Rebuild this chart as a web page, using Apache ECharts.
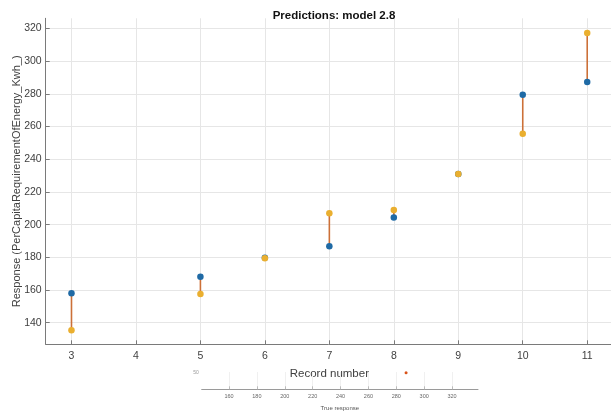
<!DOCTYPE html>
<html>
<head>
<meta charset="utf-8">
<script src="https://cdn.jsdelivr.net/npm/echarts@6/dist/echarts.min.js"></script>
<style>
  html, body { margin: 0; padding: 0; background: #fff; overflow: hidden; }
  #main { position: absolute; left: 0; top: 0; width: 611px; height: 418px; }
  #inset { position: absolute; left: 170px; top: 362px; width: 330px; height: 56px; filter: blur(0.6px); }
</style>
</head>
<body>
<div id="main"></div>
<div id="inset"></div>
<script>
// Record numbers with true and predicted response values
const recordNumbers = [3, 5, 6, 7, 8, 9, 10, 11];
const trueResponse = [158.0, 168.1, 179.8, 186.7, 204.3, 231.0, 279.4, 287.2];
const predictedResponse = [135.4, 157.6, 179.5, 207.0, 208.9, 231.0, 255.6, 317.2];

// Tick labels
const xTicks = [3, 4, 5, 6, 7, 8, 9, 10, 11];
const yTicks = [140, 160, 180, 200, 220, 240, 260, 280, 300, 320];

// Small response-plot strip below the main axes
const insetTicks = [160, 180, 200, 220, 240, 260, 280, 300, 320];
const insetTrueResponse = [287];
const insetPredicted = [50];

const FONT = '"Liberation Sans", Arial, Helvetica, sans-serif';
const AXIS_GRAY = '#7a7a7a';
const TEXT_GRAY = '#404040';
const GRID_GRAY = '#e6e6e6';

const chart = echarts.init(document.getElementById('main'), null, { renderer: 'canvas' });

chart.setOption({
  animation: false,
  backgroundColor: '#ffffff',
  title: {
    text: 'Predictions: model 2.8',
    left: 329, top: 5, textAlign: 'center',
    textStyle: { fontFamily: FONT, fontSize: 11.5, fontWeight: 'bold', color: '#111' }
  },
  grid: { left: 45.7, right: -2, top: 18.3, bottom: 73.7, containLabel: false, outerBoundsMode: 'none' },
  xAxis: {
    type: 'value', min: 2.6, max: 11.4,
    name: 'Record number', nameLocation: 'middle', nameGap: 24, nameMoveOverlap: false,
    nameTextStyle: { fontFamily: FONT, fontSize: 11.5, color: TEXT_GRAY },
    axisLine: { show: true, lineStyle: { color: AXIS_GRAY, width: 1 } },
    axisTick: { show: true, inside: true, length: 4, customValues: xTicks, lineStyle: { color: AXIS_GRAY } },
    axisLabel: { customValues: xTicks, fontFamily: FONT, fontSize: 10.5, color: TEXT_GRAY, margin: 6 },
    splitLine: { show: true, lineStyle: { color: GRID_GRAY, width: 1 } }
  },
  yAxis: {
    type: 'value', min: 126.8, max: 326.2,
    name: 'Response (PerCapitaRequirementOfEnergy_Kwh_)', nameLocation: 'middle', nameGap: 23, nameMoveOverlap: false,
    nameTextStyle: { fontFamily: FONT, fontSize: 11, color: TEXT_GRAY },
    axisLine: { show: true, lineStyle: { color: AXIS_GRAY, width: 1 } },
    axisTick: { show: true, inside: true, length: 4, customValues: yTicks, lineStyle: { color: AXIS_GRAY } },
    axisLabel: { customValues: yTicks, fontFamily: FONT, fontSize: 10.5, color: TEXT_GRAY, margin: 4 },
    splitLine: { show: true, lineStyle: { color: GRID_GRAY, width: 1 } }
  },
  series: [
    {
      name: 'Errors',
      type: 'custom',
      data: recordNumbers.map((x, i) => [x, trueResponse[i], predictedResponse[i]]),
      encode: { x: 0, y: [1, 2] },
      renderItem: function (params, api) {
        const a = api.coord([api.value(0), api.value(1)]);
        const b = api.coord([api.value(0), api.value(2)]);
        return {
          type: 'line',
          shape: { x1: a[0], y1: a[1], x2: b[0], y2: b[1] },
          style: { stroke: '#cc7038', lineWidth: 1.6 }
        };
      },
      z: 1
    },
    {
      name: 'True',
      type: 'scatter',
      symbol: 'circle', symbolSize: 6.5,
      itemStyle: { color: '#1f6aa5', opacity: 1 },
      data: recordNumbers.map((x, i) => [x, trueResponse[i]]),
      z: 2
    },
    {
      name: 'Predicted',
      type: 'scatter',
      symbol: 'circle', symbolSize: 6.5,
      itemStyle: { color: '#eaaf2f', opacity: 1 },
      data: recordNumbers.map((x, i) => [x, predictedResponse[i]]),
      z: 3
    }
  ]
});

// Strip of a response plot: x axis of true response values
const inset = echarts.init(document.getElementById('inset'), null, { renderer: 'canvas' });
inset.setOption({
  animation: false,
  grid: { left: 31.7, width: 276.3, top: 10, height: 17.3, outerBoundsMode: 'none' },
  xAxis: {
    type: 'value', min: 140.4, max: 338.6,
    name: 'True response', nameLocation: 'middle', nameGap: 16,
    nameTextStyle: { fontFamily: FONT, fontSize: 6, color: '#555' },
    axisLine: { show: true, lineStyle: { color: '#9a9a9a', width: 1 } },
    axisTick: { show: true, inside: true, length: 3, customValues: insetTicks, lineStyle: { color: '#bbb' } },
    axisLabel: { customValues: insetTicks, fontFamily: FONT, fontSize: 5.5, color: '#666', margin: 4 },
    splitLine: { show: true, lineStyle: { color: '#f0f0f0' } }
  },
  yAxis: {
    type: 'value', min: 0, max: 52,
    axisLine: { show: false },
    axisTick: { show: false },
    axisLabel: { customValues: [50], fontFamily: FONT, fontSize: 5, color: '#999', margin: 3 },
    splitLine: { show: false }
  },
  series: [{
    type: 'scatter', symbolSize: 3,
    itemStyle: { color: '#d95319', opacity: 1 },
    data: insetTrueResponse.map((x, i) => [x, insetPredicted[i]])
  }]
});
</script>
</body>
</html>
